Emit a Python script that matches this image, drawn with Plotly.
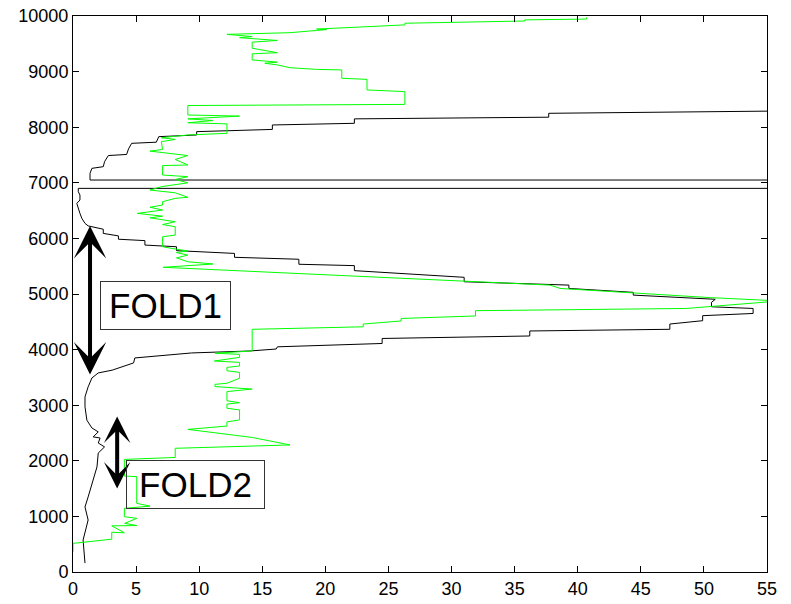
import plotly.graph_objects as go

# black profile (x value, depth)
black_x = [0.95, 0.8, 1.2, 0.95, 1.2, 1.5, 1.9, 2.0, 2.5, 2.0, 2.15, 1.6, 2.0, 1.5, 1.1,
           0.95, 0.95, 1.2, 1.5, 2.0, 3.1, 4.8, 4.9, 9.4, 14.0, 16.1, 16.2, 24.5, 24.5,
           36.2, 36.2, 47.3, 47.3, 49.9, 49.9, 53.9, 53.9, 50.6, 50.6, 50.9, 44.4, 44.4,
           39.3, 39.3, 31.0, 31.0, 22.3, 22.3, 17.9, 17.9, 12.8, 12.8, 8.2, 8.2, 5.7, 5.7,
           3.6, 3.6, 2.4, 2.4, 1.2, 0.95, 0.7, 0.55, 0.42, 0.3, 0.55, 0.55, 0.42, 0.42,
           80, 80, 1.35, 1.35, 1.5, 2.4, 2.5, 2.8, 4.25, 4.4, 4.65, 6.6, 6.8, 9.8, 9.8,
           15.8, 15.8, 22.3, 22.3, 37.7, 37.7, 54.3, 60]
black_y = [160, 575, 935, 1170, 1350, 1600, 1890, 2140, 2250, 2320, 2410, 2430, 2520, 2590, 2730,
           2970, 3150, 3330, 3490, 3580, 3630, 3760, 3850, 3940, 3975, 4010, 4050, 4110, 4200,
           4245, 4335, 4365, 4460, 4520, 4610, 4650, 4740, 4770, 4850, 4905, 4980, 5030,
           5100, 5160, 5220, 5300, 5420, 5510, 5535, 5625, 5660, 5730, 5780, 5850, 5880, 5960,
           5985, 6045, 6090, 6165, 6225, 6270, 6360, 6450, 6570, 6630, 6690, 6780, 6840, 6900,
           6900, 7050, 7050, 7170, 7260, 7290, 7380, 7490, 7510, 7610, 7710, 7730, 7830, 7860, 7920,
           7960, 8040, 8070, 8150, 8180, 8250, 8280, 8300]

# green profile
green_x = [0, 0, 3.07, 3.07, 4.07, 3.07, 5.05, 4.1, 5.05, 4.07, 4.07, 6.1, 5.05, 5.05, 4.07,
           4.07, 8.1, 8.1, 17.2, 14.2, 9.1, 12.2, 12.2, 13.2, 13.2, 12.2, 12.2, 13.2, 12.2,
           12.2, 14.2, 11.25, 11.25, 12.2, 13.2, 13.2, 12.2, 12.2, 13.2, 13.2, 11.2, 13.2,
           13.2, 11.25, 14.2, 14.2, 23.0, 23.0, 26.0, 26.0, 31.9, 31.9, 48.6, 54.3, 56, 50.5,
           38.6, 37.8, 30.9, 7.15, 11.1, 9.1, 8.2, 9.1, 8.2, 9.1, 8.2, 7.1, 7.1, 8.1, 8.1, 7.1,
           8.1, 6.1, 7.1, 5.1, 7.1, 6.1, 7.1, 7.1, 8.1, 9.1, 8.1, 6.1, 7.0, 9.1, 8.1, 9.1,
           7.1, 7.1, 9.1, 8.1, 9.1, 6.1, 7.1, 7.0, 8.1, 7.0, 9.1, 12.2, 12.2, 9.1, 11.1, 9.1,
           13.2, 9.1, 9.1, 26.3, 26.3, 23.3, 23.3, 21.3, 21.3, 19.3, 17.2, 16.2, 15.2, 16.2,
           14.2, 14.2, 16.2, 15.2, 14.2, 14.2, 16.2, 13.2, 14.2, 12.2, 17.2, 19.3, 20.1, 19.3,
           26.3, 26.3, 35.8, 35.8, 40.7, 40.7]
green_y = [365, 515, 590, 715, 705, 830, 835, 875, 965, 995, 1145, 1185, 1235, 1715, 1725,
           2025, 2060, 2225, 2285, 2420, 2565, 2625, 2700, 2735, 2915, 2945, 3020, 3045, 3080,
           3245, 3290, 3335, 3375, 3395, 3485, 3590, 3620, 3680, 3705, 3770, 3795, 3860,
           3915, 3935, 3975, 4365, 4410, 4460, 4515, 4560, 4605, 4700, 4740, 4850, 4875, 4935,
           5100, 5160, 5235, 5480, 5540, 5580, 5650, 5700, 5745, 5775, 5805, 5850, 6030, 6060, 6210, 6250,
           6300, 6370, 6400, 6450, 6510, 6560, 6600, 6660, 6720, 6740, 6820, 6870, 6930, 7000, 7060, 7110,
           7140, 7310, 7320, 7420, 7490, 7570, 7600, 7740, 7780, 7810, 7860, 7890, 8060, 8080, 8120, 8150,
           8200, 8220, 8390, 8410, 8640, 8670, 8860, 8880, 9030, 9040, 9070, 9120, 9150, 9170,
           9210, 9320, 9340, 9375, 9420, 9530, 9560, 9610, 9630, 9670, 9700, 9740, 9755, 9765,
           9840, 9870, 9910, 9930, 9945, 9975]

x_ticks = list(range(0, 56, 5))
y_ticks = list(range(0, 10001, 1000))

fig = go.Figure()
fig.add_trace(go.Scatter(x=black_x, y=black_y, mode="lines",
                         line=dict(color="black", width=1)))
fig.add_trace(go.Scatter(x=green_x, y=green_y, mode="lines",
                         line=dict(color="#00ff00", width=1)))

# double headed arrows
for xa, y0, y1, w, s in [(1.35, 3525, 6223, 4, 1.35), (3.5, 1475, 2795, 4, 1.1)]:
    fig.add_annotation(x=xa, y=y1, ax=xa, ay=y0, xref="x", yref="y", axref="x", ayref="y",
                       text="", showarrow=True, arrowhead=3, startarrowhead=3,
                       arrowside="end+start", arrowwidth=w, arrowsize=s, startarrowsize=s,
                       arrowcolor="black", standoff=0, startstandoff=0)

for label, xc, yc, wd in [("FOLD1", 7.3, 4800, 129), ("FOLD2", 9.73, 1580, 137)]:
    fig.add_annotation(x=xc, y=yc, xref="x", yref="y", text=label, showarrow=False,
                       font=dict(family="Liberation Sans, Arial", size=35, color="black"),
                       bordercolor="#333", borderwidth=1, borderpad=0,
                       width=wd, height=47, bgcolor="rgba(0,0,0,0)")

axis_style = dict(showgrid=False, zeroline=False, showline=True, linecolor="black",
                  linewidth=1, mirror="ticks", ticks="inside", ticklen=6,
                  tickcolor="black", automargin=False,
                  tickfont=dict(family="Liberation Sans, Arial", size=18, color="black"))
fig.update_xaxes(range=[0, 55], tickvals=x_ticks, ticktext=[str(v) for v in x_ticks],
                 **axis_style)
fig.update_yaxes(range=[0, 10000], tickvals=y_ticks, ticktext=[str(v) for v in y_ticks],
                 **axis_style)

fig.update_layout(width=791, height=604, showlegend=False,
                  plot_bgcolor="white", paper_bgcolor="white",
                  margin=dict(l=73, r=24, t=16, b=32))

# drop the default page margin so the figure sits at the window's corner
fig.write_html("out.html", config={"displayModeBar": False},
               post_script="document.body.style.margin='0';")
